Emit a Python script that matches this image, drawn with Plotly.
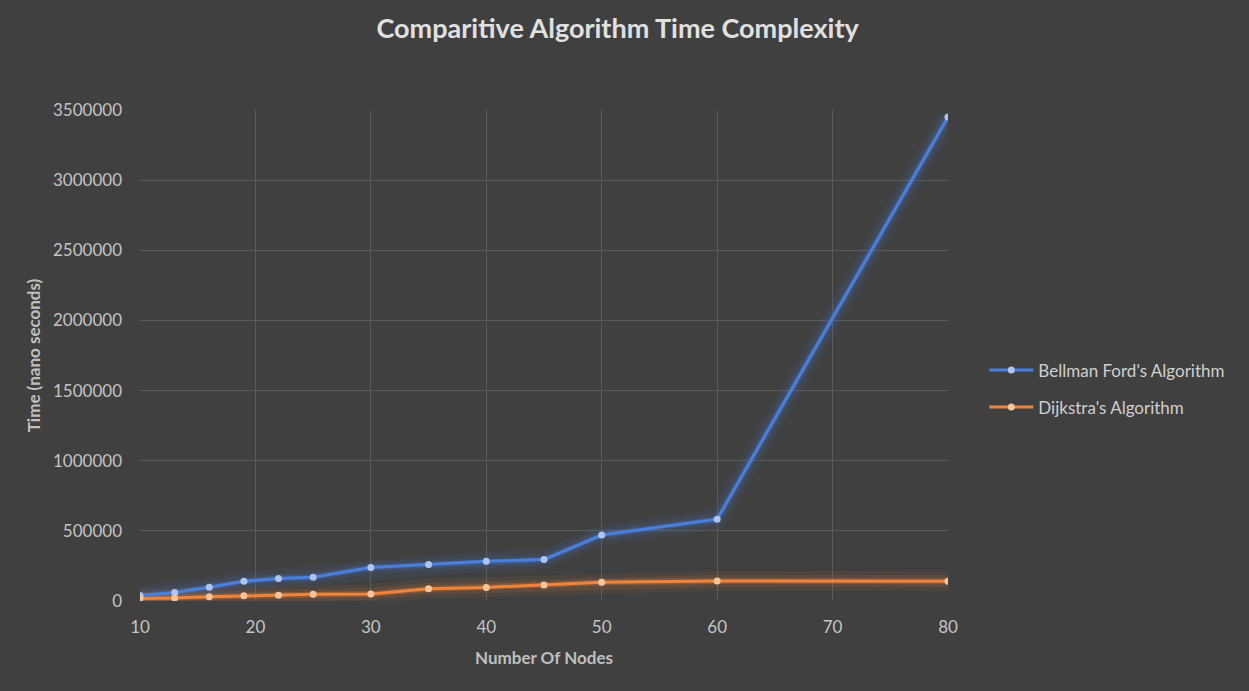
import plotly.graph_objects as go

nodes = [10, 13, 16, 19, 22, 25, 30, 35, 40, 45, 50, 60, 80]
bellman_ford = [40000, 60000, 98000, 140000, 160000, 170000, 238000, 260000, 283000, 295000, 470000, 583000, 3450000]
dijkstra = [18000, 21000, 30000, 37000, 41000, 48000, 50000, 88000, 97000, 114000, 133000, 143000, 140000]

series = [
    ("Bellman Ford's Algorithm", bellman_ford, "#4a7fdc", "#aec4ee", "rgba(74,127,220,"),
    ("Dijkstra's Algorithm", dijkstra, "#f0843a", "#f8c49c", "rgba(240,132,58,"),
]

fig = go.Figure()
# glow layers
for name, vals, col, mcol, rgba in series:
    for w, a in [(20, 0.07), (12, 0.12), (6, 0.25)]:
        fig.add_trace(go.Scatter(x=nodes, y=vals, mode="lines",
                                 line=dict(color=rgba + f"{a})", width=w),
                                 showlegend=False, hoverinfo="skip"))
for i, (name, vals, col, mcol, rgba) in enumerate(series):
    fig.add_trace(go.Scatter(x=nodes, y=vals, mode="lines+markers", name=name,
                             legendgroup=f"g{i}",
                             line=dict(color=col, width=3),
                             marker=dict(color=mcol, size=7, line=dict(width=0))))

font_fam = "Lato, 'Open Sans', sans-serif"
fig.update_layout(
    width=1249, height=691,
    paper_bgcolor="#404040", plot_bgcolor="#404040",
    margin=dict(l=140, r=301, t=110, b=90),
    font=dict(family=font_fam, color="#bfbfbf", size=17),
    title=dict(text="<b>Comparitive Algorithm Time Complexity</b>",
               x=0.4945, xanchor="center", y=1 - 29 / 691, yanchor="middle",
               font=dict(size=27, color="#e0e0e0", family=font_fam)),
    legend=dict(x=1.045, xanchor="left", y=0.432, yanchor="middle",
                font=dict(size=17, color="#cfcfcf"), bgcolor="rgba(0,0,0,0)",
                tracegroupgap=12, itemwidth=44),
    showlegend=True,
)
fig.update_xaxes(range=[10, 80], dtick=10, tick0=10, showgrid=True, gridcolor="#5a5a5a",
                 gridwidth=1, zeroline=False, showline=False,
                 tickfont=dict(size=17, color="#c4c4c4"), ticks="", ticklabelstandoff=14,
                 title=dict(text="<b>Number Of Nodes</b>", font=dict(size=17, color="#bfbfbf"), standoff=16))
fig.update_yaxes(range=[0, 3500000], dtick=500000, showgrid=True, gridcolor="#5a5a5a",
                 gridwidth=1, zeroline=False, showline=False, tickformat="d",
                 tickfont=dict(size=17, color="#c4c4c4"), ticks="", ticklabelstandoff=17,
                 title=dict(text="<b>Time (nano seconds)</b>", font=dict(size=17, color="#bfbfbf"), standoff=8))

fig.write_html("out.html", config={"displayModeBar": False},
               post_script="document.body.style.margin='0';document.body.style.background='#404040';")
